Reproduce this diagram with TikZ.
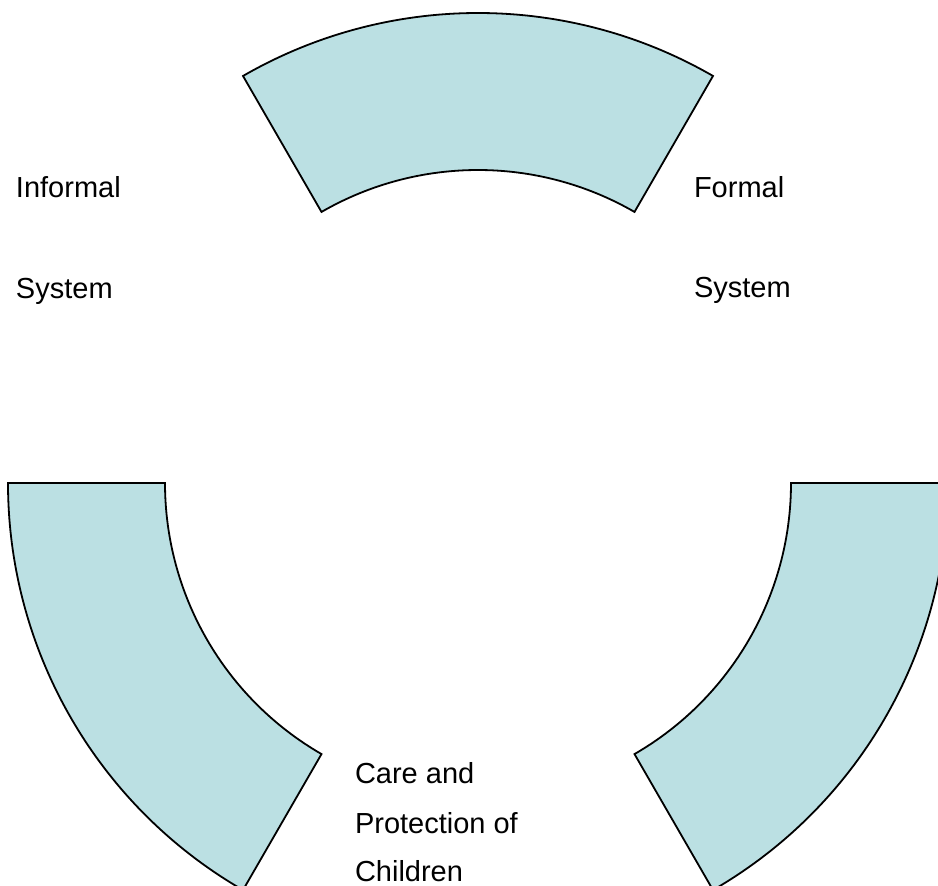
\documentclass[tikz,border=0pt]{standalone}
\usepackage{fontspec}
\setmainfont{Liberation Sans}
\definecolor{ringfill}{RGB}{187,224,227}
\tikzset{
  sector/.style={fill=ringfill, draw=black, line width=1.8pt, line join=miter},
  lbl/.style={anchor=base west, inner sep=0pt, outer sep=0pt, font=\fontsize{29}{34}\selectfont}
}
\begin{document}
\begin{tikzpicture}[x=1pt,y=1pt]
\useasboundingbox (0,0) rectangle (938,-886);
\clip (0,0) rectangle (938,-886);
\coordinate (c) at (478,-483);
\def\Ro{470}
\def\Ri{313}
% top sector
\draw[sector] ([shift={(c)}]60:\Ro) arc[start angle=60, end angle=120, radius=\Ro]
  -- ([shift={(c)}]120:\Ri) arc[start angle=120, end angle=60, radius=\Ri] -- cycle;
% bottom-left sector
\draw[sector] ([shift={(c)}]180:\Ro) arc[start angle=180, end angle=240, radius=\Ro]
  -- ([shift={(c)}]240:\Ri) arc[start angle=240, end angle=180, radius=\Ri] -- cycle;
% bottom-right sector
\draw[sector] ([shift={(c)}]300:\Ro) arc[start angle=300, end angle=360, radius=\Ro]
  -- ([shift={(c)}]360:\Ri) arc[start angle=360, end angle=300, radius=\Ri] -- cycle;
% labels
\node[lbl] (inf1) at (16,-197) {Informal};
\node[lbl] (inf2) at (16,-298) {System};
\node[lbl] (for1) at (694,-197) {Formal};
\node[lbl] (for2) at (694,-297) {System};
\node[lbl] (care1) at (355,-783) {Care and};
\node[lbl] (care2) at (355,-833) {Protection of};
\node[lbl] (care3) at (355,-881) {Children};
\end{tikzpicture}
\end{document}
